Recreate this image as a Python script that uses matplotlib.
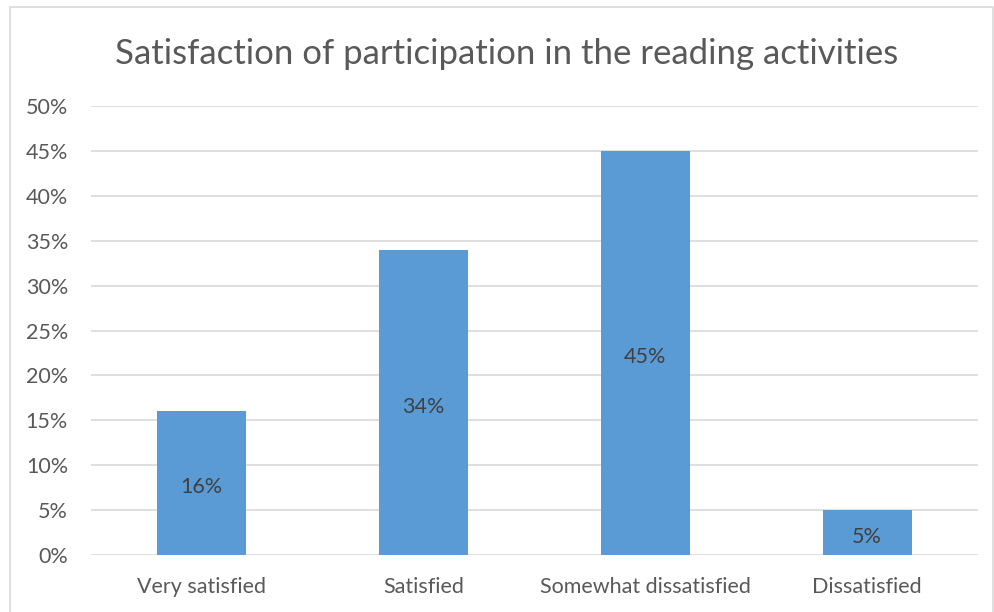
import matplotlib.pyplot as plt
from matplotlib.patches import Rectangle
from matplotlib.ticker import PercentFormatter, MultipleLocator

categories = ['Very satisfied', 'Satisfied', 'Somewhat dissatisfied', 'Dissatisfied']
shares = [16, 34, 45, 5]

plt.rcParams['font.family'] = ['Lato', 'DejaVu Sans']
grey = '#595959'

fig = plt.figure(figsize=(9.94, 6.12), dpi=100)
ax = fig.add_axes([0.0915, 0.0931, 0.8925, 0.7337])

# light frame around the chart area
fig.patches.append(Rectangle((10 / 994, -0.05), (983 / 994), 1 - 7 / 612 + 0.05,
                             transform=fig.transFigure, fill=False,
                             edgecolor='#d9d9d9', linewidth=1.2))

x = range(len(categories))
bars = ax.bar(x, shares, width=0.4, color='#5b9bd5', zorder=3)
for b, v in zip(bars, shares):
    ax.annotate(f'{v}%', (b.get_x() + b.get_width() / 2, v / 2),
                xytext=(0, -3), textcoords='offset points',
                ha='center', va='center', fontsize=15.5, color='#404040', zorder=4)

ax.set_xlim(-0.5, len(categories) - 0.5)
ax.set_ylim(0, 50)
ax.yaxis.set_major_locator(MultipleLocator(5))
ax.yaxis.set_major_formatter(PercentFormatter(decimals=0))
ax.set_xticks(list(x))
ax.set_xticklabels(categories)
ax.tick_params(axis='both', length=0, labelsize=15.5, labelcolor=grey)
ax.tick_params(axis='y', pad=16.5)
ax.tick_params(axis='x', pad=16)
ax.grid(axis='y', color='#d9d9d9', linewidth=1.2, zorder=0)
for s in ax.spines.values():
    s.set_visible(False)

fig.text(0.51, 0.912, 'Satisfaction of participation in the reading activities',
         ha='center', va='center', fontsize=25, color=grey)

fig.savefig('out.png', dpi=100)
